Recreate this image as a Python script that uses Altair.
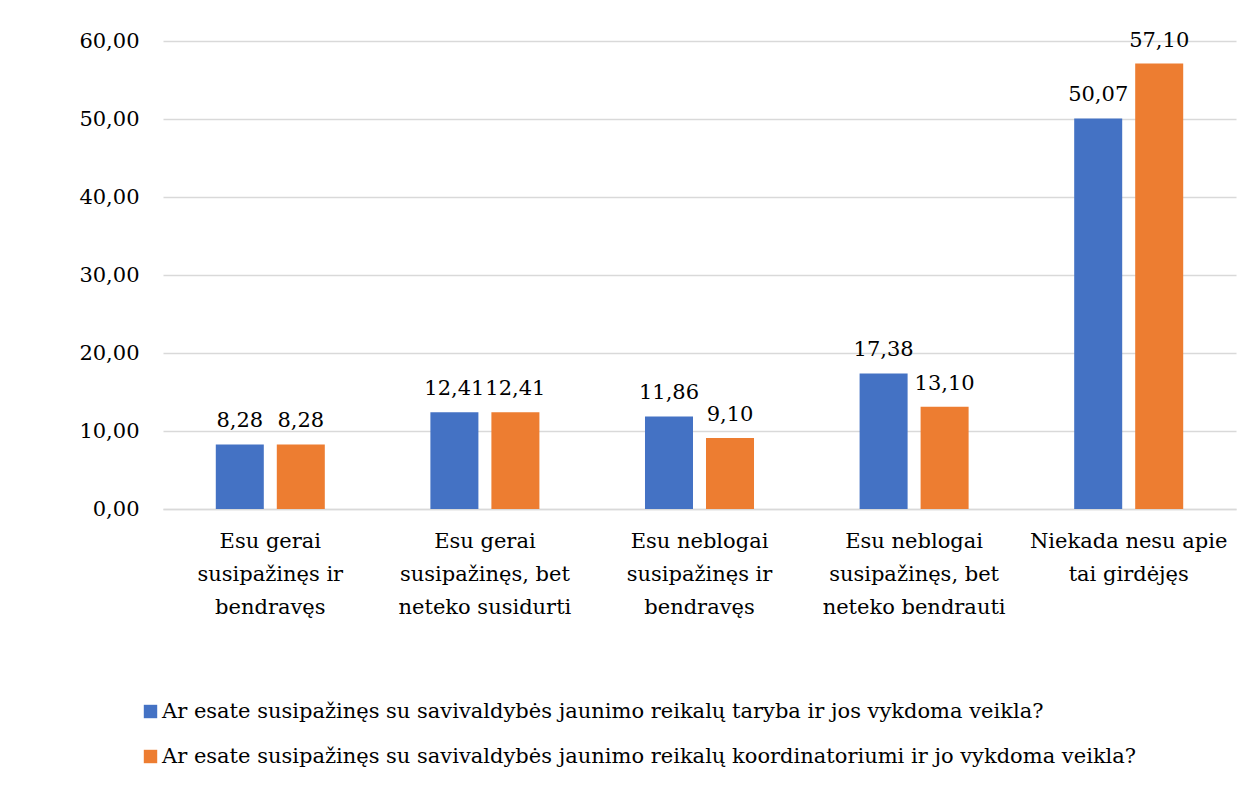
import altair as alt
import pandas as pd

categories = [
    "Esu gerai susipažinęs ir bendravęs",
    "Esu gerai susipažinęs, bet neteko susidurti",
    "Esu neblogai susipažinęs ir bendravęs",
    "Esu neblogai susipažinęs, bet neteko bendrauti",
    "Niekada nesu apie tai girdėjęs",
]
category_lines = [
    "Esu gerai|susipažinęs ir|bendravęs",
    "Esu gerai|susipažinęs, bet|neteko susidurti",
    "Esu neblogai|susipažinęs ir|bendravęs",
    "Esu neblogai|susipažinęs, bet|neteko bendrauti",
    "Niekada nesu apie|tai girdėjęs",
]
series = [
    "Ar esate susipažinęs su savivaldybės jaunimo reikalų taryba ir jos vykdoma veikla?",
    "Ar esate susipažinęs su savivaldybės jaunimo reikalų koordinatoriumi ir jo vykdoma veikla?",
]
values_taryba = [8.28, 12.41, 11.86, 17.38, 50.07]
values_koord = [8.28, 12.41, 9.10, 13.10, 57.10]
colors = ["#4472C4", "#ED7D31"]

rows = []
for c, lab, v1, v2 in zip(categories, category_lines, values_taryba, values_koord):
    for s, v in zip(series, [v1, v2]):
        rows.append({"cat": lab, "series": s, "value": v,
                     "label": f"{v:.2f}".replace(".", ",")})
df = pd.DataFrame(rows)

FONT = "DejaVu Serif"
FS = 21

x = alt.X("cat:N", sort=category_lines, title=None,
          scale=alt.Scale(paddingInner=0.492, paddingOuter=0.246),
          axis=alt.Axis(labelExpr="split(datum.label, '|')", labelAngle=0,
                        labelFontSize=FS, labelLineHeight=33, labelPadding=21,
                        labelLimit=400,
                        labelColor="#000000", labelFont=FONT, ticks=False,
                        domainColor="#d9d9d9", domainWidth=1.5, labelBaseline="top"))
xoff = alt.XOffset("series:N", sort=series,
                   scale=alt.Scale(paddingInner=0.213, paddingOuter=0))

bars = alt.Chart(df).mark_bar().encode(
    x=x,
    xOffset=xoff,
    y=alt.Y("value:Q", title=None,
            scale=alt.Scale(domain=[0, 60]),
            axis=alt.Axis(values=[0, 10, 20, 30, 40, 50, 60],
                          labelExpr="replace(format(datum.value, '.2f'), '.', ',')",
                          labelFontSize=FS, labelFont=FONT, labelColor="#000000",
                          labelPadding=24, ticks=False, domain=False,
                          gridColor="#d9d9d9", gridWidth=1.5)),
    color=alt.Color("series:N", sort=series,
                    scale=alt.Scale(domain=series, range=colors),
                    legend=alt.Legend(title=None, orient="none", legendX=-23, legendY=660,
                                      symbolType="square", symbolSize=180,
                                      symbolStrokeWidth=0, labelFontSize=FS,
                                      labelFont=FONT, labelColor="#000000",
                                      rowPadding=23, labelLimit=1200, labelOffset=1,
                                      direction="vertical")),
)

text = alt.Chart(df).mark_text(baseline="alphabetic", dy=-17, fontSize=FS,
                               font=FONT, color="#000000").encode(
    x=alt.X("cat:N", sort=category_lines),
    xOffset=xoff,
    y="value:Q",
    text="label:N",
)

chart = (bars + text).properties(
    width=1073, height=468,
    padding={"top": 21, "left": 70, "right": 12, "bottom": 5},
    background="#ffffff",
).configure_view(stroke=None)

chart.save("out.html", embed_options={"renderer": "svg", "actions": False})
